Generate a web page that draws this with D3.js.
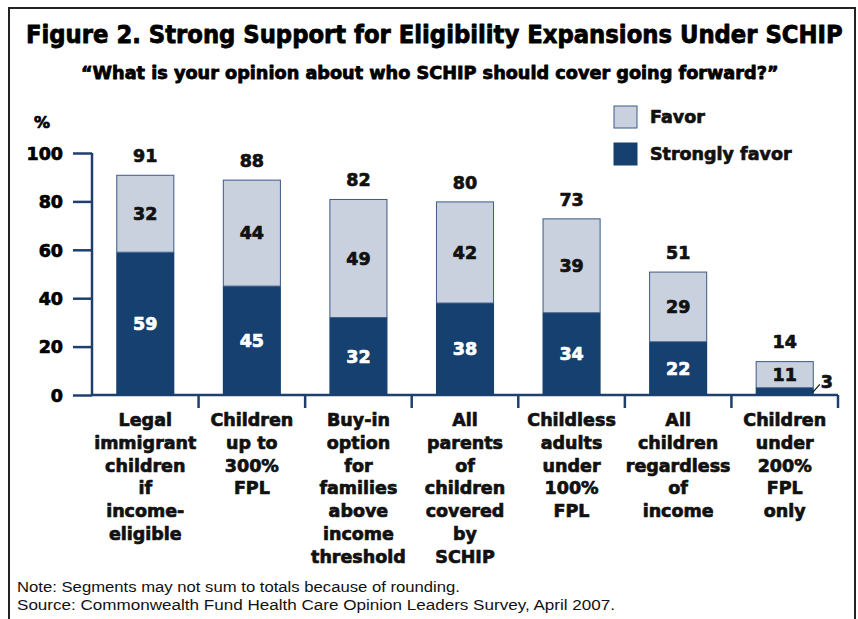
<!DOCTYPE html>
<html>
<head>
<meta charset="utf-8">
<script src="https://cdn.jsdelivr.net/npm/d3@7"></script>
<style>
  html, body { margin: 0; padding: 0; background: #fff; }
  svg { display: block; }
  .heavy { stroke-width: 0.7px; stroke-linejoin: round; }
</style>
</head>
<body>
<svg id="chart" width="858" height="619"></svg>
<script>
// Survey categories (each entry is a list of label lines)
const categories = [
  ["Legal", "immigrant", "children", "if", "income-", "eligible"],
  ["Children", "up to", "300%", "FPL"],
  ["Buy-in", "option", "for", "families", "above", "income", "threshold"],
  ["All", "parents", "of", "children", "covered", "by", "SCHIP"],
  ["Childless", "adults", "under", "100%", "FPL"],
  ["All", "children", "regardless", "of", "income"],
  ["Children", "under", "200%", "FPL", "only"]
];
const stronglyFavor = [59, 45, 32, 38, 34, 22, 3];
const favor = [32, 44, 49, 42, 39, 29, 11];
const totals = [91, 88, 82, 80, 73, 51, 14];
const yTicks = [0, 20, 40, 60, 80, 100];
const seriesNames = ["Favor", "Strongly favor"];

const DARK = "#15406f";
const LIGHT = "#c9d1df";
const AXIS = "#1f3f6d";
const BOLD = "'DejaVu Sans', 'Liberation Sans', Arial, sans-serif";

const svg = d3.select("#chart");

// outer frame
svg.append("rect")
  .attr("x", 9).attr("y", 8).attr("width", 846).attr("height", 640)
  .attr("fill", "none").attr("stroke", "#222").attr("stroke-width", 2);

// heavy bold text helper: fill and matching thin outline
const heavy = (sel, color) => sel
  .attr("class", "heavy")
  .attr("font-family", BOLD).attr("font-weight", "bold")
  .attr("fill", color).attr("stroke", color);

// condensed heading: set at a base size, then squeezed horizontally to a target width
function heading(str, x0, baseline, size, width, tallness) {
  const g = svg.append("g");
  const t = g.append("text")
    .call(heavy, "#000")
    .attr("x", 0).attr("y", 0)
    .attr("font-size", size)
    .text(str);
  const w = t.node().getComputedTextLength();
  g.attr("transform", `translate(${x0},${baseline}) scale(${width / w},${tallness})`);
}

heading("Figure 2. Strong Support for Eligibility Expansions Under SCHIP", 26, 43, 21, 817, 1.18);
heading("\u201CWhat is your opinion about who SCHIP should cover going forward?\u201D", 81, 79, 15, 698, 1.12);

// scales
const x = d3.scaleBand()
  .domain(d3.range(categories.length))
  .range([92, 838])
  .paddingInner(0.455)
  .paddingOuter(0.2275);

const y = d3.scaleLinear().domain([0, 100]).range([395, 153]);

// y axis (ticks on the left)
const yAxis = svg.append("g")
  .attr("transform", "translate(92,0)")
  .call(d3.axisLeft(y).tickValues(yTicks).tickSize(19).tickPadding(10));
yAxis.select(".domain").attr("stroke", AXIS).attr("stroke-width", 2.5)
  .attr("d", `M0,${y(100)}V${y(0)}`);
yAxis.selectAll(".tick line").attr("stroke", AXIS).attr("stroke-width", 2.5);
yAxis.selectAll(".tick text")
  .call(heavy, "#000")
  .attr("font-size", 17.5)
  .attr("dy", "0.36em");

svg.append("text")
  .call(heavy, "#000")
  .attr("x", 34).attr("y", 128)
  .attr("font-size", 16)
  .text("%");

// x axis baseline with category separators
const step = x.step();
svg.append("line")
  .attr("x1", 92).attr("x2", 838).attr("y1", y(0)).attr("y2", y(0))
  .attr("stroke", AXIS).attr("stroke-width", 2.5);
svg.selectAll(".sep")
  .data(d3.range(1, categories.length + 1))
  .join("line")
  .attr("class", "sep")
  .attr("x1", i => 92 + i * step).attr("x2", i => 92 + i * step)
  .attr("y1", y(0)).attr("y2", y(0) + 13)
  .attr("stroke", AXIS).attr("stroke-width", 2.5);

// stacked bars
const rows = categories.map((c, i) => ({ i, s: stronglyFavor[i], f: favor[i], t: totals[i] }));

const bars = svg.append("g");
bars.selectAll(".strong")
  .data(rows).join("rect")
  .attr("x", d => x(d.i)).attr("width", x.bandwidth())
  .attr("y", d => y(d.s)).attr("height", d => y(0) - y(d.s))
  .attr("fill", DARK);

bars.selectAll(".fav")
  .data(rows).join("rect")
  .attr("x", d => x(d.i) + 0.5).attr("width", x.bandwidth() - 1)
  .attr("y", d => y(d.s + d.f) + 0.5).attr("height", d => y(d.s) - y(d.s + d.f) - 0.5)
  .attr("fill", LIGHT).attr("stroke", "#3b5a85").attr("stroke-width", 1);

// segment labels
const lbl = (sel, color) => sel
  .call(heavy, color)
  .attr("font-size", 17.5)
  .attr("text-anchor", "middle").attr("dy", "0.36em");

svg.selectAll(".strongLbl")
  .data(rows.filter(d => d.s >= 10)).join("text")
  .call(lbl, "#fff")
  .attr("x", d => x(d.i) + x.bandwidth() / 2)
  .attr("y", d => (y(0) + y(d.s)) / 2)
  .text(d => d.s);

svg.selectAll(".favLbl")
  .data(rows).join("text")
  .call(lbl, "#111")
  .attr("x", d => x(d.i) + x.bandwidth() / 2)
  .attr("y", d => (y(d.s) + y(d.s + d.f)) / 2)
  .text(d => d.f);

// totals above bars
svg.selectAll(".totLbl")
  .data(rows).join("text")
  .call(lbl, "#111")
  .attr("x", d => x(d.i) + x.bandwidth() / 2)
  .attr("y", d => y(d.s + d.f) - 19)
  .text(d => d.t);

// small segment label with leader line
rows.filter(d => d.s < 10).forEach(d => {
  const x0 = x(d.i) + x.bandwidth();
  const ym = (y(0) + y(d.s)) / 2;
  svg.append("line")
    .attr("x1", x0 - 1).attr("y1", ym + 1)
    .attr("x2", x0 + 6).attr("y2", ym - 7)
    .attr("stroke", "#111").attr("stroke-width", 1.2);
  svg.append("text")
    .call(heavy, "#111")
    .attr("x", x0 + 7).attr("y", ym - 10)
    .attr("font-size", 17.5)
    .attr("dy", "0.36em")
    .text(d.s);
});

// category labels
svg.selectAll(".cat")
  .data(categories).join("text")
  .call(heavy, "#111")
  .attr("font-size", 17.5)
  .attr("text-anchor", "middle")
  .attr("x", (c, i) => x(i) + x.bandwidth() / 2)
  .attr("y", 426)
  .each(function (c) {
    d3.select(this).selectAll("tspan")
      .data(c).join("tspan")
      .attr("x", d3.select(this).attr("x"))
      .attr("dy", (l, k) => k === 0 ? 0 : 22.8)
      .text(l => l);
  });

// legend
const legend = svg.append("g");
const legendItems = [
  { name: seriesNames[0], fill: LIGHT, stroke: "#3b5a85", y: 106 },
  { name: seriesNames[1], fill: DARK, stroke: DARK, y: 143 }
];
legendItems.forEach(it => {
  legend.append("rect")
    .attr("x", 614).attr("y", it.y).attr("width", 23).attr("height", 22)
    .attr("fill", it.fill).attr("stroke", it.stroke).attr("stroke-width", 1);
  legend.append("text")
    .call(heavy, "#111")
    .attr("x", 650).attr("y", it.y + 11).attr("dy", "0.36em")
    .attr("font-size", 17.5)
    .text(it.name);
});

// notes
const NOTE = "'Liberation Sans', Arial, sans-serif";
svg.append("text")
  .attr("x", 17).attr("y", 592)
  .attr("font-family", NOTE).attr("font-size", 14)
  .attr("textLength", 443).attr("lengthAdjust", "spacingAndGlyphs")
  .attr("fill", "#111")
  .text("Note: Segments may not sum to totals because of rounding.");
svg.append("text")
  .attr("x", 17).attr("y", 610)
  .attr("font-family", NOTE).attr("font-size", 14)
  .attr("textLength", 598).attr("lengthAdjust", "spacingAndGlyphs")
  .attr("fill", "#111")
  .text("Source: Commonwealth Fund Health Care Opinion Leaders Survey, April 2007.");
</script>
</body>
</html>
